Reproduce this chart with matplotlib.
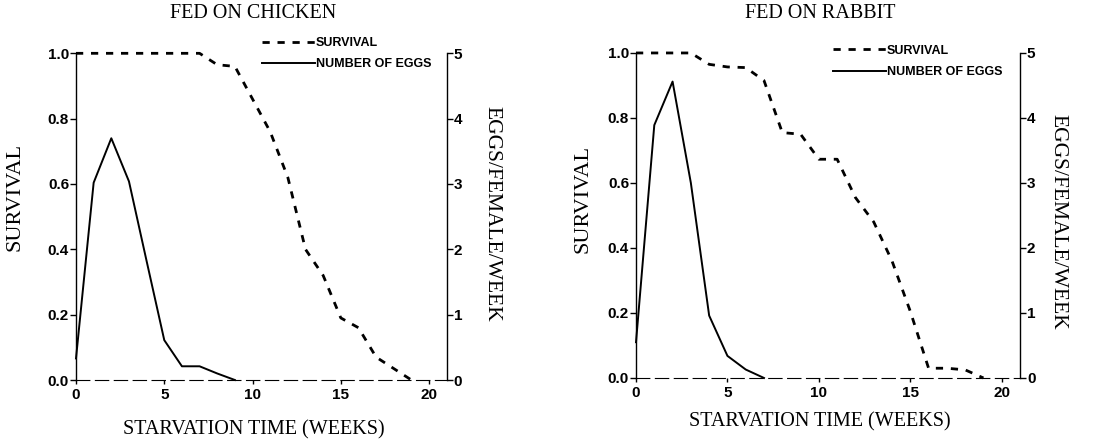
import matplotlib
matplotlib.use("Agg")
import matplotlib.pyplot as plt
from matplotlib.lines import Line2D

# starvation time (weeks)
weeks_surv = [0, 1, 2, 3, 4, 5, 6, 7, 8, 9, 10, 11, 12, 13, 14, 15, 16, 17, 18, 19]
weeks_eggs_chicken = [0, 1, 2, 3, 4, 5, 6, 7, 8, 9]
weeks_eggs_rabbit = [0, 1, 2, 3, 4, 5, 6, 7]

# fed on chicken
surv_chicken = [1.0, 1.0, 1.0, 1.0, 1.0, 1.0, 1.0, 1.0, 0.965, 0.96,
                0.86, 0.76, 0.62, 0.40, 0.32, 0.19, 0.16, 0.07, 0.035, 0.0]
eggs_chicken = [0.33, 3.02, 3.70, 3.04, 1.82, 0.61, 0.21, 0.21, 0.10, 0.0]

# fed on rabbit
surv_rabbit = [1.0, 1.0, 1.0, 1.0, 0.965, 0.957, 0.955, 0.915, 0.755, 0.75,
               0.673, 0.673, 0.555, 0.48, 0.36, 0.205, 0.03, 0.03, 0.025, 0.0]
eggs_rabbit = [0.55, 3.89, 4.56, 3.0, 0.96, 0.34, 0.13, 0.0]

titles = ["FED ON CHICKEN", "FED ON RABBIT"]
xlabel = "STARVATION TIME (WEEKS)"
ylabel_left = "SURVIVAL"
ylabel_right = "EGGS/FEMALE/WEEK"
legend_labels = ["SURVIVAL", "NUMBER OF EGGS"]

serif = "Liberation Serif"
sans = "Liberation Sans"
surv_dash = (2.6, 2.8)

fig = plt.figure(figsize=(11.16, 4.41), dpi=100)

panels = [
    dict(rect=[0.0681, 0.1383, 0.3322, 0.7408], surv=surv_chicken,
         wk_eggs=weeks_eggs_chicken, eggs=eggs_chicken,
         title_xy=(253, 14), xlab_xy=(254, 430),
         ylab_l=(-0.165, 0.56), ylab_r=(1.122, 0.51), leg=(0.502, 1.05)),
    dict(rect=[0.5699, 0.1429, 0.3441, 0.7370], surv=surv_rabbit,
         wk_eggs=weeks_eggs_rabbit, eggs=eggs_rabbit,
         title_xy=(820, 14), xlab_xy=(820, 422),
         ylab_l=(-0.138, 0.55), ylab_r=(1.099, 0.48), leg=(0.513, 1.025)),
]

for title, p in zip(titles, panels):
    ax = fig.add_axes(p["rect"])
    ax2 = ax.twinx()

    ax.plot(weeks_surv, p["surv"], color="black", lw=2.0,
            dashes=surv_dash, solid_capstyle="butt", clip_on=False)
    ax2.plot(p["wk_eggs"], p["eggs"], color="black", lw=1.4, clip_on=False)

    ax.set_xlim(0, 21)
    ax.set_ylim(0, 1)
    ax2.set_ylim(0, 5)
    ax.set_xticks([0, 5, 10, 15, 20])
    ax.set_yticks([0, 0.2, 0.4, 0.6, 0.8, 1.0])
    ax.set_yticklabels(["0.0", "0.2", "0.4", "0.6", "0.8", "1.0"])
    ax2.set_yticks([0, 1, 2, 3, 4, 5])

    for s in ["top", "right"]:
        ax.spines[s].set_visible(False)
    for s in ["top", "left", "bottom"]:
        ax2.spines[s].set_visible(False)
    ax.spines["bottom"].set_linestyle((0, (12, 5)))
    ax.spines["bottom"].set_linewidth(0.8)
    ax.spines["left"].set_linewidth(1.0)
    ax2.spines["right"].set_linewidth(1.0)

    ax.tick_params(axis="y", direction="out", length=4, width=1, pad=1)
    ax.tick_params(axis="x", direction="out", length=3, width=1, pad=3)
    ax2.tick_params(axis="y", direction="out", length=4, width=1, pad=1)
    for lab in ax.get_xticklabels() + ax.get_yticklabels() + ax2.get_yticklabels():
        lab.set_fontfamily(sans)
        lab.set_fontweight("bold")
        lab.set_fontsize(11)

    ax.set_ylabel(ylabel_left, fontfamily=serif, fontsize=16, va="center")
    ax.yaxis.set_label_coords(*p["ylab_l"])
    ax2.set_ylabel(ylabel_right, fontfamily=serif, fontsize=15.5, rotation=270,
                   va="center")
    ax2.yaxis.set_label_coords(*p["ylab_r"])

    tx, ty = p["title_xy"]
    fig.text(tx / 1116, 1 - ty / 441, title, ha="center", va="center",
             fontfamily=serif, fontsize=14.5)
    lx, ly = p["xlab_xy"]
    fig.text(lx / 1116, 1 - ly / 441, xlabel, ha="center", va="center",
             fontfamily=serif, fontsize=14.5)

    handles = [Line2D([], [], color="black", lw=2.0, dashes=surv_dash),
               Line2D([], [], color="black", lw=1.4)]
    ax2.legend(handles, legend_labels, loc="upper left",
               bbox_to_anchor=p["leg"], frameon=False, borderpad=0,
               borderaxespad=0, handlelength=4.2, handletextpad=0.1,
               labelspacing=0.75,
               prop=dict(family=sans, weight="bold", size=9))

fig.savefig("out.png", dpi=100)
